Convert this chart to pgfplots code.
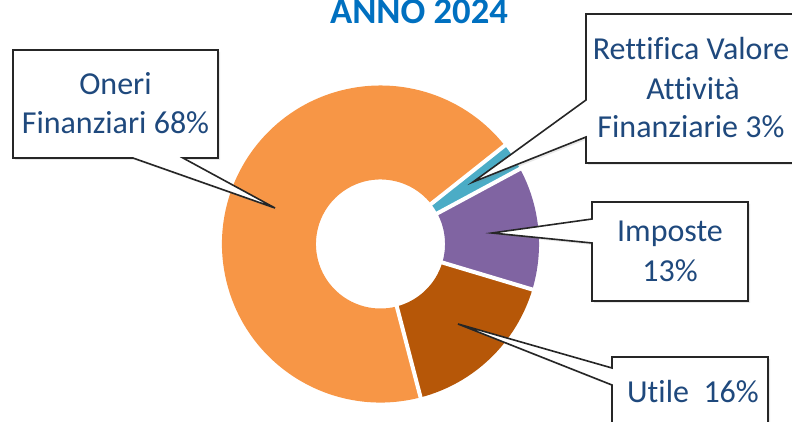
\documentclass[border=0pt]{standalone}
\usepackage{fontspec}
\setmainfont{Carlito}[Ligatures={NoCommon}]
\usepackage{pgfplots}
\pgfplotsset{compat=1.18}
\usetikzlibrary{calc,shadows}

\definecolor{oneri}{HTML}{F79646}
\definecolor{rettifica}{HTML}{4BACC6}
\definecolor{imposte}{HTML}{8064A2}
\definecolor{utile}{HTML}{B65708}
\definecolor{testo}{HTML}{1F497D}
\definecolor{titolo}{HTML}{0070C0}
\definecolor{bordo}{HTML}{262626}

% donut geometry: start angle, outer and inner radius
\def\st{38.4}
\def\Ro{118.9pt}
\def\Ri{48.4pt}
% #1 start (cumulative %), #2 end (cumulative %), #3 colour
\newcommand\slice[3]{%
  \fill[#3] ($(c)+({\st-3.6*#1}:\Ro)$)
    arc[start angle={\st-3.6*#1}, end angle={\st-3.6*#2}, radius=\Ro]
    -- ($(c)+({\st-3.6*#2}:\Ri)$)
    arc[start angle={\st-3.6*#2}, end angle={\st-3.6*#1}, radius=\Ri] -- cycle;}
\newcommand\gap[1]{%
  \draw[white, line width=3pt] ($(c)+({\st-3.6*#1}:45pt)$) -- ($(c)+({\st-3.6*#1}:122pt)$);}

\tikzset{callout/.style={fill=white, draw=bordo, line width=1.2pt, line join=miter,
  drop shadow={shadow xshift=1.5pt, shadow yshift=-1.5pt, opacity=0.18}},
  lab/.style={anchor=base, text=testo, font=\fontsize{24}{29}\selectfont, inner sep=0pt}}

\begin{document}
\begin{tikzpicture}
\useasboundingbox (0,0) rectangle (594pt,315.75pt);
\begin{axis}[hide axis, scale only axis, x=0.75pt, y=0.75pt,
  xmin=0, xmax=792, ymin=0, ymax=421, clip=false]
  \coordinate (c) at (axis cs:380.5,177);
  % shares: Rettifica 2.8, Imposte 12.5, Utile 16.3, Oneri 68.4
  \slice{0}{2.8}{rettifica}
  \slice{2.8}{15.3}{imposte}
  \slice{15.3}{31.6}{utile}
  \slice{31.6}{100}{oneri}
  \gap{0}\gap{2.8}\gap{15.3}\gap{31.6}

  % callouts
  \draw[callout] (axis cs:13,371) -- (axis cs:218,371) -- (axis cs:218,263) -- (axis cs:183,263)
    -- (axis cs:275,213) -- (axis cs:133,263) -- (axis cs:13,263) -- cycle;
  \draw[callout] (axis cs:586,407) -- (axis cs:800,407) -- (axis cs:800,258) -- (axis cs:586,258)
    -- (axis cs:586,284) -- (axis cs:473,239) -- (axis cs:586,321) -- cycle;
  \draw[callout] (axis cs:592,219) -- (axis cs:748,219) -- (axis cs:748,120) -- (axis cs:592,120)
    -- (axis cs:592,178) -- (axis cs:492,188) -- (axis cs:592,202) -- cycle;
  \draw[callout] (axis cs:612,64) -- (axis cs:768,64) -- (axis cs:768,-10) -- (axis cs:612,-10)
    -- (axis cs:612,36) -- (axis cs:458,97) -- (axis cs:612,53) -- cycle;

  \node[lab] at (axis cs:115.5,326) {Oneri};
  \node[lab] at (axis cs:115.5,287) {Finanziari 68\%};
  \node[lab] at (axis cs:691,361) {Rettifica Valore};
  \node[lab] at (axis cs:693,321) {Attività};
  \node[lab] at (axis cs:691,283) {Finanziarie 3\%};
  \node[lab] at (axis cs:670,179) {Imposte};
  \node[lab] at (axis cs:670,139) {13\%};
  \node[lab] at (axis cs:693,19) {Utile\ \ 16\%};

  \node[anchor=base, inner sep=0pt, text=titolo, font=\bfseries\fontsize{27.5}{33}\selectfont]
    at (axis cs:419,397) {ANNO 2024};
\end{axis}
\end{tikzpicture}
\end{document}
